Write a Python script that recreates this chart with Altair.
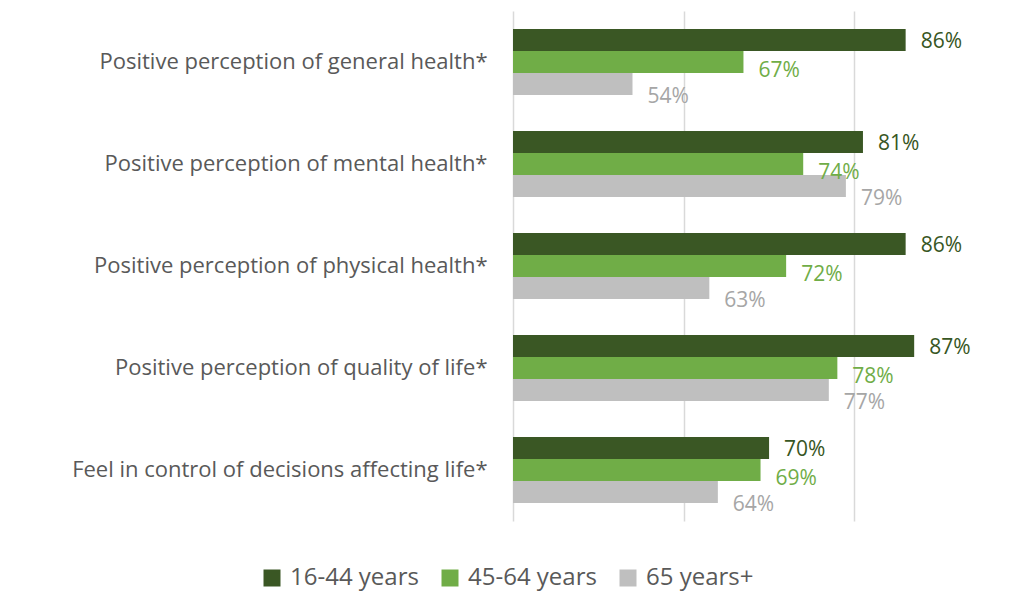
import altair as alt
import pandas as pd

categories = [
    "Positive perception of general health*",
    "Positive perception of mental health*",
    "Positive perception of physical health*",
    "Positive perception of quality of life*",
    "Feel in control of decisions affecting life*",
]
series = ["16-44 years", "45-64 years", "65 years+"]
v_16_44 = [86, 81, 86, 87, 70]
v_45_64 = [67, 74, 72, 78, 69]
v_65 = [54, 79, 63, 77, 64]

bar_colors = ["#3A5724", "#70AD47", "#BFBFBF"]
label_colors = ["#375623", "#70AD47", "#A6A6A6"]
label_dy = [2, 9, 13]

rows = []
for s, vals in zip(series, [v_16_44, v_45_64, v_65]):
    for c, v in zip(categories, vals):
        rows.append({"category": c, "series": s, "value": v})
df = pd.DataFrame(rows)

y_enc = alt.Y("category:N", sort=categories, title=None,
              scale=alt.Scale(paddingInner=0.353, paddingOuter=0.176),
              axis=alt.Axis(domain=False, ticks=False, labelPadding=26,
                            labelFont="Open Sans", labelFontSize=22,
                            labelColor="#595959", labelLimit=600))
yoff_enc = alt.YOffset("series:N", sort=series,
                       scale=alt.Scale(paddingInner=0, paddingOuter=0))
x_enc = alt.X("value:Q", title=None,
              scale=alt.Scale(domain=[40, 96], zero=False, nice=False),
              axis=alt.Axis(values=[40, 60, 80], labels=False, ticks=False,
                            domain=False, grid=True, gridColor="#D9D9D9",
                            gridWidth=1.5))

bars = alt.Chart(df).mark_bar().encode(
    y=y_enc, yOffset=yoff_enc, x=x_enc, x2=alt.datum(40),
    color=alt.Color("series:N", sort=series,
                    scale=alt.Scale(domain=series, range=bar_colors),
                    legend=alt.Legend(title=None, orient="none", direction="horizontal",
                                      legendX=-253, legendY=555,
                                      symbolType="square", symbolSize=289,
                                      symbolStrokeWidth=0, labelFont="Open Sans",
                                      labelFontSize=24, labelColor="#595959",
                                      labelOffset=6, columnPadding=19, padding=0)),
)

layers = [bars]
for s, col, dy in zip(series, label_colors, label_dy):
    t = alt.Chart(df).transform_filter(alt.datum.series == s).transform_calculate(
        label="datum.value + '%'"
    ).mark_text(align="left", baseline="middle", dx=15, dy=dy, font="Open Sans",
                fontSize=21, color=col).encode(
        y=alt.Y("category:N", sort=categories), yOffset=alt.YOffset("series:N", sort=series),
        x=alt.X("value:Q"), text="label:N")
    layers.append(t)

chart = alt.layer(*layers).properties(
    width=478, height=510,
    autosize=alt.AutoSizeParams(type="none"),
    padding={"left": 505, "top": 3, "right": 10, "bottom": 72},
).configure_view(stroke=None)

chart.save("out.html", embed_options={"renderer": "svg", "actions": False})
